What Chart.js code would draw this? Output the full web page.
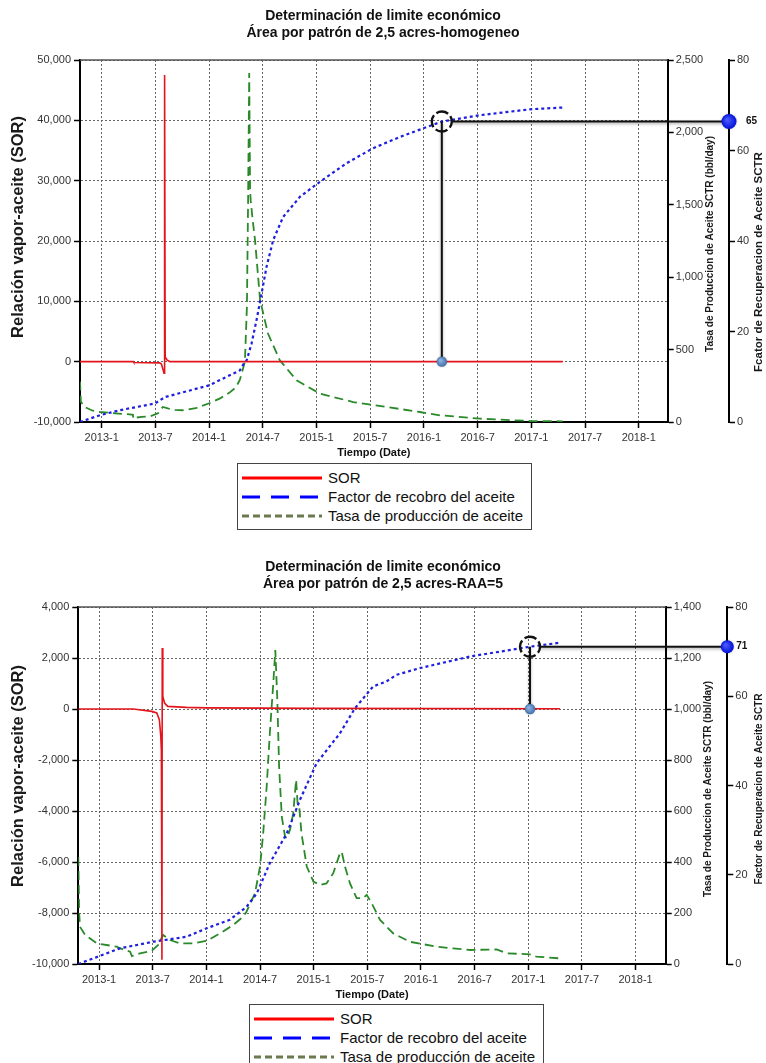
<!DOCTYPE html>
<html><head><meta charset="utf-8">
<script src="https://cdn.jsdelivr.net/npm/chart.js@4.4.1/dist/chart.umd.min.js"></script>
<style>
html,body{margin:0;padding:0;background:#fff;}
body{width:766px;height:1063px;position:relative;overflow:hidden;font-family:"Liberation Sans",Arial,sans-serif;}
canvas{position:absolute;left:0;}
#c1{top:0;}
#c2{top:547px;}
.legend{position:absolute;border:1.5px solid #444;background:#fff;padding:4px 8px 4px 4px;font-size:15px;line-height:19px;color:#111;white-space:nowrap;}
.legend .row{display:flex;align-items:center;height:19px;}
.legend svg{margin-right:6px;flex:none;}
#lg1{left:237px;top:463px;}
#lg2{left:249px;top:1004px;}
</style></head>
<body>
<canvas id="c1" width="766" height="464"></canvas>
<canvas id="c2" width="766" height="459"></canvas>
<div class="legend" id="lg1"></div>
<div class="legend" id="lg2"></div>
<script>
const FONT = '"Liberation Sans", Arial, sans-serif';

// ---------- shared ----------
const seriesNames = ['SOR', 'Factor de recobro del aceite', 'Tasa de producción de aceite'];
const xTickLabels = ['2013-1','2013-7','2014-1','2014-7','2015-1','2015-7','2016-1','2016-7','2017-1','2017-7','2018-1'];

// ---------- chart 1 : homogeneo ----------
const title1 = ['Determinación de limite económico', 'Área por patrón de 2,5 acres-homogeneo'];
const sorTitle1 = 'Relación vapor-aceite (SOR)';
const tasaTitle1 = 'Tasa de Produccion de Aceite SCTR (bbl/day)';
const facTitle1 = 'Fcator de Recuperacion de Aceite SCTR';
const xRange1 = ['2012-10-19', '2018-04-08'];
const sorTicks1 = [-10000, 50000, 10000];
const tasaTicks1 = [0, 2500, 500];
const facTicks1 = [0, 80, 20];

const sorDates1 = ['2012-10-19','2013-04-17','2013-04-19','2013-07-16','2013-07-22','2013-07-31','2013-08-02','2013-08-04','2013-08-10','2013-08-20','2017-04-16'];
const sorValues1 = [0, 0, -150, -200, -400, -1900, 47500, 800, 300, 0, 0];

const facDates1 = ['2012-10-19','2012-12-26','2013-03-02','2013-06-30','2013-08-03','2014-01-01','2014-04-14','2014-05-01','2014-05-07','2014-05-24','2014-06-10','2014-06-27','2014-07-14','2014-08-06','2014-09-09','2014-11-06','2015-01-13','2015-04-12','2015-07-11','2015-10-11','2016-03-01','2016-07-09','2016-12-27','2017-04-16'];
const facValues1 = [0, 1.5, 2.6, 4.1, 5.5, 8.1, 11.4, 13.3, 13.6, 17.3, 22.5, 28.4, 34.3, 40.2, 45.3, 49.8, 53.1, 57.2, 60.5, 63.0, 66.4, 67.8, 69.1, 69.5];

const tasaDates1 = ['2012-10-19','2012-10-22','2012-11-04','2012-12-01','2012-12-26','2013-02-15','2013-04-05','2013-04-16','2013-04-17','2013-04-25','2013-05-16','2013-06-13','2013-07-10','2013-07-27','2013-08-16','2013-09-07','2013-10-03','2013-11-16','2014-01-04','2014-02-09','2014-03-11','2014-04-01','2014-04-14','2014-05-01','2014-05-08','2014-05-12','2014-05-16','2014-05-19','2014-05-21','2014-05-28','2014-06-05','2014-06-22','2014-07-19','2014-08-29','2014-10-25','2015-01-13','2015-05-04','2015-08-26','2015-12-18','2016-02-25','2016-07-09','2016-12-27','2017-04-16'];
const tasaValues1 = [280, 140, 104, 78, 69, 60, 53, 50, 22, 30, 36, 39, 60, 104, 92, 84, 81, 95, 131, 165, 205, 240, 290, 415, 795, 1500, 2410, 1600, 1532, 1394, 1256, 841, 611, 426, 288, 196, 138, 104, 69, 46, 23, 7, 5];

const limitDate1 = '2016-03-01';
const limitFactor1 = 66.4;
const limitSor1 = 0;
const limitLabel1 = '65';

// ---------- chart 2 : RAA=5 ----------
const title2 = ['Determinación de limite económico', 'Área por patrón de 2,5 acres-RAA=5'];
const sorTitle2 = 'Relación vapor-aceite (SOR)';
const tasaTitle2 = 'Tasa de Produccion de Aceite SCTR (bbl/day)';
const facTitle2 = 'Factor de Recuperacion de Aceite SCTR';
const xRange2 = ['2012-10-22', '2018-04-12'];
const sorTicks2 = [-10000, 4000, 2000];
const tasaTicks2 = [0, 1400, 200];
const facTicks2 = [0, 80, 20];

const sorDates2 = ['2012-10-22','2013-04-26','2013-06-28','2013-07-15','2013-07-24','2013-07-29','2013-07-31','2013-08-02','2013-08-03','2013-08-05','2013-08-11','2013-08-22','2013-10-25','2014-01-01','2015-01-01','2017-04-17'];
const sorValues2 = [0, 0, -94, -157, -420, -1074, -1650, -9830, 2390, 494, 235, 102, 63, 45, 25, 10];

const facDates2 = ['2012-10-22','2013-03-11','2013-07-03','2013-10-25','2014-01-02','2014-03-20','2014-05-16','2014-06-20','2014-08-04','2014-10-01','2014-11-15','2015-01-11','2015-03-30','2015-05-20','2015-07-21','2015-09-05','2015-10-09','2015-12-28','2016-06-15','2017-01-07','2017-04-17'];
const facValues2 = [0, 3.5, 5.0, 6.1, 8.0, 9.9, 12.8, 15.8, 22.6, 29.3, 36.8, 45.0, 51.7, 57.3, 62.2, 63.3, 64.8, 66.3, 68.9, 71.1, 72.0];

const tasaDates2 = ['2012-10-22','2012-10-25','2012-10-28','2012-11-14','2012-12-24','2013-02-28','2013-03-11','2013-04-15','2013-04-21','2013-05-19','2013-06-28','2013-07-20','2013-08-06','2013-08-30','2013-10-03','2013-11-17','2014-01-02','2014-02-16','2014-04-01','2014-05-05','2014-05-16','2014-06-14','2014-07-01','2014-07-12','2014-07-24','2014-08-04','2014-08-16','2014-08-23','2014-08-30','2014-09-05','2014-09-14','2014-09-25','2014-10-01','2014-10-12','2014-10-23','2014-11-02','2014-11-07','2014-11-12','2014-11-20','2014-12-08','2014-12-31','2015-01-23','2015-02-13','2015-03-07','2015-03-30','2015-04-05','2015-04-16','2015-05-03','2015-05-26','2015-06-17','2015-06-29','2015-07-16','2015-08-14','2015-09-28','2015-11-24','2016-02-23','2016-04-19','2016-06-15','2016-09-15','2016-10-19','2017-01-07','2017-01-29','2017-04-17'];
const tasaValues2 = [420, 200, 146, 114, 81, 68, 62, 48, 31, 42, 52, 75, 114, 94, 81, 81, 91, 120, 153, 186, 205, 277, 382, 513, 695, 905, 1101, 1231, 1035, 774, 578, 499, 493, 526, 591, 722, 630, 624, 513, 382, 323, 310, 316, 356, 434, 440, 382, 316, 258, 258, 271, 238, 173, 120, 87, 68, 61, 55, 57, 42, 38, 29, 22];

const limitDate2 = '2017-01-07';
const limitFactor2 = 71.1;
const limitSor2 = 0;
const limitLabel2 = '71';

// ---------- helpers ----------
function toMonth(s) {
  const p = s.split('-').map(Number);
  const Y = p[0], M = p[1], D = p[2] || 1;
  const dim = new Date(Y, M, 0).getDate();
  return (Y - 2013) * 12 + (M - 1) + (D - 1) / dim;
}
function pts(dates, vals) { return dates.map((d, i) => ({x: toMonth(d), y: vals[i]})); }
const fmt = v => Number(v).toLocaleString('en-US');

function vText(ctx, text, x, y, size) {
  ctx.save();
  ctx.translate(x, y);
  ctx.rotate(-Math.PI / 2);
  ctx.font = 'bold ' + size + 'px ' + FONT;
  ctx.fillStyle = '#1a1a1a';
  ctx.textAlign = 'center';
  ctx.textBaseline = 'middle';
  ctx.fillText(text, 0, 0);
  ctx.restore();
}

const overlayPlugin = {
  id: 'overlay',
  afterDraw(chart, args, o) {
    const {ctx, chartArea: ca, scales} = chart;
    const mid = (ca.top + ca.bottom) / 2;
    ctx.save();
    ctx.strokeStyle = '#555'; ctx.lineWidth = 1.5;
    ctx.beginPath(); ctx.moveTo(ca.left, ca.top); ctx.lineTo(ca.right, ca.top); ctx.stroke();
    ctx.restore();

    vText(ctx, o.sorTitle, o.sorX, mid + o.sorDy, o.sorSize);
    vText(ctx, o.tasaTitle, scales.yTasa.right - 19, mid + o.tasaDy, 10);
    vText(ctx, o.facTitle, scales.yFac.right - 7, mid + o.facDy, o.facSize);

    const x = scales.x.getPixelForValue(toMonth(o.date));
    const yF = scales.yFac.getPixelForValue(o.factor);
    const y0 = scales.ySor.getPixelForValue(o.sor);
    const xa = scales.yFac.left;
    const r = 10;
    ctx.save();
    ctx.shadowColor = 'rgba(0,0,0,0.35)'; ctx.shadowBlur = 3; ctx.shadowOffsetY = 1.5;
    ctx.strokeStyle = '#111'; ctx.lineWidth = 2;
    ctx.beginPath(); ctx.moveTo(x, yF); ctx.lineTo(x, y0); ctx.stroke();
    ctx.beginPath(); ctx.moveTo(x + r, yF); ctx.lineTo(xa, yF); ctx.stroke();
    ctx.restore();
    ctx.save();
    ctx.strokeStyle = '#111'; ctx.lineWidth = 2.4;
    ctx.setLineDash([12.5, 3.2]); ctx.lineDashOffset = 6;
    ctx.beginPath(); ctx.arc(x, yF, r, 0, Math.PI * 2); ctx.stroke();
    ctx.restore();
    ctx.save();
    let g = ctx.createRadialGradient(x - 1.5, y0 - 1.5, 0.5, x, y0, 5.5);
    g.addColorStop(0, '#8fb4e3'); g.addColorStop(1, '#3c6ca6');
    ctx.fillStyle = g; ctx.shadowColor = 'rgba(0,0,0,0.3)'; ctx.shadowBlur = 2;
    ctx.beginPath(); ctx.arc(x, y0, 5.2, 0, Math.PI * 2); ctx.fill();
    ctx.restore();
    ctx.save();
    g = ctx.createRadialGradient(xa - 2, yF - 2, 0.5, xa, yF, o.dotR);
    g.addColorStop(0, '#4d5cff'); g.addColorStop(1, '#0010d8');
    ctx.fillStyle = g; ctx.shadowColor = 'rgba(0,0,0,0.3)'; ctx.shadowBlur = 2;
    ctx.beginPath(); ctx.arc(xa, yF, o.dotR, 0, Math.PI * 2); ctx.fill();
    ctx.restore();
    ctx.save();
    ctx.font = 'bold 10px ' + FONT; ctx.fillStyle = '#111';
    ctx.textAlign = 'left'; ctx.textBaseline = 'middle';
    ctx.fillText(o.label, xa + o.labelDx, yF);
    ctx.restore();
  }
};

function buildChart(id, c) {
  const tickFont = {size: 11, family: FONT};
  return new Chart(document.getElementById(id), {
    type: 'line',
    data: {datasets: [
      {label: seriesNames[0], data: pts(c.sorDates, c.sorValues), yAxisID: 'ySor', borderColor: '#e3141b', borderWidth: 1.6, pointRadius: 0, order: 1},
      {label: seriesNames[1], data: pts(c.facDates, c.facValues), yAxisID: 'yFac', borderColor: '#1f1fe0', borderWidth: 2.2, borderDash: [3, 3], pointRadius: 0, order: 2},
      {label: seriesNames[2], data: pts(c.tasaDates, c.tasaValues), yAxisID: 'yTasa', borderColor: '#2a8a2a', borderWidth: 1.8, borderDash: [9, 5], pointRadius: 0, order: 3}
    ]},
    options: {
      responsive: false, animation: false, devicePixelRatio: 1,
      layout: {padding: 0},
      plugins: {
        legend: {display: false}, tooltip: {enabled: false},
        title: {display: true, text: c.title, font: {size: 14, weight: 'bold', family: FONT, lineHeight: 1.25}, color: '#111', padding: {top: c.padTop, bottom: c.padBottom}},
        overlay: c.overlay
      },
      scales: {
        x: {
          type: 'linear', position: 'bottom', min: toMonth(c.xRange[0]), max: toMonth(c.xRange[1]),
          afterBuildTicks: s => { s.ticks = xTickLabels.map(l => ({value: toMonth(l)})); },
          afterFit: s => { s.height = 42; },
          ticks: {autoSkip: false, maxRotation: 0, font: tickFont, color: '#333', padding: 3, callback: (v, i) => xTickLabels[i]},
          grid: {color: '#666', lineWidth: 1, tickColor: '#000', tickLength: 6, tickWidth: 1.5},
          border: {color: '#000', width: 2, dash: [2, 2]},
          title: {display: true, text: 'Tiempo (Date)', font: {size: 11, weight: 'bold', family: FONT}, color: '#111', padding: {top: 0, bottom: 4}}
        },
        ySor: {
          position: 'left', min: c.sorTicks[0], max: c.sorTicks[1],
          ticks: {stepSize: c.sorTicks[2], font: tickFont, color: '#333', padding: 3, callback: v => fmt(v)},
          afterFit: s => { s.width = c.leftW; },
          grid: {color: '#666', lineWidth: 1, tickColor: '#000', tickLength: 6, tickWidth: 1.5},
          border: {color: '#000', width: 2, dash: [2, 2]}
        },
        yTasa: {
          position: 'right', min: c.tasaTicks[0], max: c.tasaTicks[1],
          ticks: {stepSize: c.tasaTicks[2], font: tickFont, color: '#333', padding: 2, callback: v => fmt(v)},
          afterFit: s => { s.width = c.tasaW; },
          grid: {drawOnChartArea: false, tickColor: '#000', tickLength: 6, tickWidth: 1.5},
          border: {color: '#000', width: 2}
        },
        yFac: {
          position: 'right', min: c.facTicks[0], max: c.facTicks[1],
          ticks: {stepSize: c.facTicks[2], font: tickFont, color: '#333', padding: 2, callback: v => fmt(v)},
          afterFit: s => { s.width = c.facW; },
          grid: {drawOnChartArea: false, tickColor: '#000', tickLength: 6, tickWidth: 1.5},
          border: {color: '#000', width: 2}
        }
      }
    },
    plugins: [overlayPlugin]
  });
}

buildChart('c1', {
  title: title1, padTop: 7, padBottom: 18, xRange: xRange1,
  sorTicks: sorTicks1, tasaTicks: tasaTicks1, facTicks: facTicks1,
  sorDates: sorDates1, sorValues: sorValues1, facDates: facDates1, facValues: facValues1, tasaDates: tasaDates1, tasaValues: tasaValues1,
  leftW: 80, tasaW: 61.3, facW: 37,
  overlay: {sorTitle: sorTitle1, tasaTitle: tasaTitle1, facTitle: facTitle1, sorX: 18, sorDy: -14, sorSize: 16.5, tasaDy: 3, facDy: 21, facSize: 11.5,
    date: limitDate1, factor: limitFactor1, sor: limitSor1, label: limitLabel1, dotR: 7.5, labelDx: 17}
});
buildChart('c2', {
  title: title2, padTop: 11, padBottom: 14, xRange: xRange2,
  sorTicks: sorTicks2, tasaTicks: tasaTicks2, facTicks: facTicks2,
  sorDates: sorDates2, sorValues: sorValues2, facDates: facDates2, facValues: facValues2, tasaDates: tasaDates2, tasaValues: tasaValues2,
  leftW: 78.3, tasaW: 61.6, facW: 38.7,
  overlay: {sorTitle: sorTitle2, tasaTitle: tasaTitle2, facTitle: facTitle2, sorX: 18, sorDy: -9.5, sorSize: 16.5, tasaDy: 3.5, facDy: 3.5, facSize: 10,
    date: limitDate2, factor: limitFactor2, sor: limitSor2, label: limitLabel2, dotR: 6.5, labelDx: 9}
});

// ---------- legends ----------
const legendColors = ['#ff0000', '#0000ff', '#6b7a4e'];
const legendDash = ['', '18 11', '7 4'];
function buildLegend(id) {
  const el = document.getElementById(id);
  seriesNames.forEach((name, i) => {
    const row = document.createElement('div');
    row.className = 'row';
    row.innerHTML = '<svg width="80" height="8"><line x1="0" y1="4" x2="80" y2="4" stroke="' + legendColors[i] + '" stroke-width="3" stroke-dasharray="' + legendDash[i] + '"/></svg><span></span>';
    row.querySelector('span').textContent = name;
    el.appendChild(row);
  });
}
buildLegend('lg1');
buildLegend('lg2');
</script>
</body></html>
